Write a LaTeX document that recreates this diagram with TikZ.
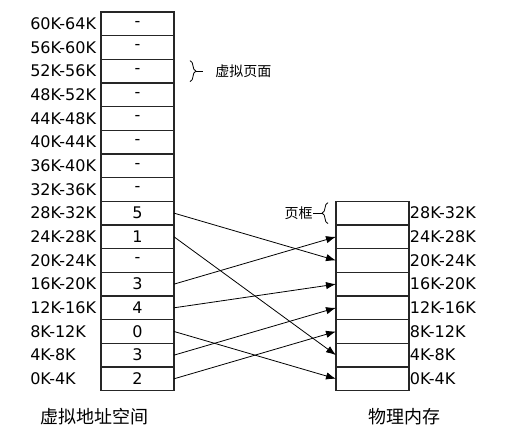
\documentclass[tikz,border=0pt]{standalone}
\usepackage{fontspec}
\setmainfont{DejaVu Sans}
\newfontfamily\cjk{Noto Sans CJK SC}
\usetikzlibrary{positioning,arrows.meta,decorations.pathreplacing}

\begin{document}
\begin{tikzpicture}[x=0.75pt,y=-0.75pt,
  cell/.style={rectangle,draw=black!85,line width=1pt,minimum width=54.75pt,minimum height=17.75pt,inner sep=0pt,outer sep=0pt,font=\fontsize{12}{14}\selectfont},
  addr/.style={font=\fontsize{12}{14}\selectfont,inner sep=0pt},
  vlab/.style={addr,anchor=west,xshift=-53.25pt},
  flab/.style={addr,label distance=0.5pt},
  mapline/.style={->,>={Latex[length=7.5pt,width=5.5pt]},line width=0.6pt},
  curly/.style={decorate,decoration={brace,amplitude=4.5pt},line width=0.6pt},
  note/.style={font=\cjk\fontsize{10.5}{12}\selectfont,inner sep=0pt},
  title/.style={font=\cjk\fontsize{13.5}{15}\selectfont,inner sep=0pt}]
\useasboundingbox (0,0) rectangle (509,442);

% virtual address space
\node [cell,at={(137.5,23.8)},label={[vlab]left:60K-64K}] (v15) {-};
\node [cell,below=0pt of v15,label={[vlab]left:56K-60K}] (v14) {-};
\node [cell,below=0pt of v14,label={[vlab]left:52K-56K}] (v13) {-};
\node [cell,below=0pt of v13,label={[vlab]left:48K-52K}] (v12) {-};
\node [cell,below=0pt of v12,label={[vlab]left:44K-48K}] (v11) {-};
\node [cell,below=0pt of v11,label={[vlab]left:40K-44K}] (v10) {-};
\node [cell,below=0pt of v10,label={[vlab]left:36K-40K}] (v9) {-};
\node [cell,below=0pt of v9,label={[vlab]left:32K-36K}] (v8) {-};
\node [cell,below=0pt of v8,label={[vlab]left:28K-32K}] (v7) {5};
\node [cell,below=0pt of v7,label={[vlab]left:24K-28K}] (v6) {1};
\node [cell,below=0pt of v6,label={[vlab]left:20K-24K}] (v5) {-};
\node [cell,below=0pt of v5,label={[vlab]left:16K-20K}] (v4) {3};
\node [cell,below=0pt of v4,label={[vlab]left:12K-16K}] (v3) {4};
\node [cell,below=0pt of v3,label={[vlab]left:8K-12K}] (v2) {0};
\node [cell,below=0pt of v2,label={[vlab]left:4K-8K}] (v1) {3};
\node [cell,below=0pt of v1,label={[vlab]left:0K-4K}] (v0) {2};

% physical memory
\node [cell,right=121.5pt of v7,label={[flab]right:28K-32K}] (f7) {};
\node [cell,below=0pt of f7,label={[flab]right:24K-28K}] (f6) {};
\node [cell,below=0pt of f6,label={[flab]right:20K-24K}] (f5) {};
\node [cell,below=0pt of f5,label={[flab]right:16K-20K}] (f4) {};
\node [cell,below=0pt of f4,label={[flab]right:12K-16K}] (f3) {};
\node [cell,below=0pt of f3,label={[flab]right:8K-12K}] (f2) {};
\node [cell,below=0pt of f2,label={[flab]right:4K-8K}] (f1) {};
\node [cell,below=0pt of f1,label={[flab]right:0K-4K}] (f0) {};

\draw [mapline] (v7.east) -- (f5.west);
\draw [mapline] (v6.east) -- (f1.west);
\draw [mapline] (v4.east) -- (f6.west);
\draw [mapline] (v3.east) -- (f4.west);
\draw [mapline] (v2.east) -- (f0.west);
\draw [mapline] (v1.east) -- (f3.west);
\draw [mapline] (v0.east) -- (f2.west);

% braces
\draw [curly] ([xshift=12pt,yshift=-1pt]v13.north east) -- ([xshift=12pt,yshift=1pt]v13.south east);
\coordinate (vtip) at ([xshift=16.5pt]v13.east);
\coordinate (vtick) at ([xshift=21.75pt]v13.east);
\node [note,anchor=west,at={([xshift=30.75pt]v13.east)}] (vpage) {虚拟页面};
\draw [line width=0.6pt] (vtip) -- (vtick);

\draw [curly] ([xshift=-6pt,yshift=1pt]f7.south west) -- ([xshift=-6pt,yshift=-1pt]f7.north west);
\coordinate (ftip) at ([xshift=-10.5pt]f7.west);
\node [note,anchor=east,at={([xshift=-17.25pt]f7.west)}] (frame) {页框};
\draw [line width=0.6pt] (ftip) -- (frame.east);

\node [title] (vspace) at (94,417) {虚拟地址空间};
\node [title] (pmem) at (404,417) {物理内存};
\end{tikzpicture}
\end{document}
